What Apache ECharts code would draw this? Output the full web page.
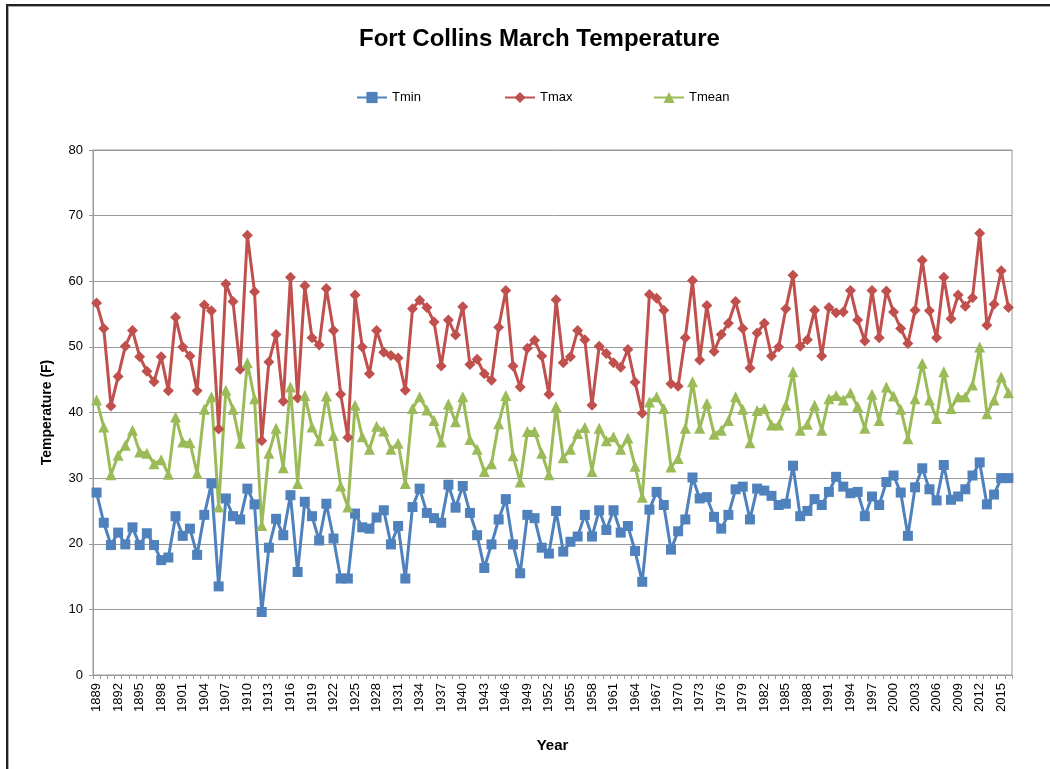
<!DOCTYPE html>
<html>
<head>
<meta charset="utf-8">
<title>Fort Collins March Temperature</title>
<script src="https://cdn.jsdelivr.net/npm/echarts@6/dist/echarts.min.js"></script>
<style>
    html, body { margin: 0; padding: 0; background: #fff; overflow: hidden; }
    #frame { position: absolute; left: 6px; top: 4px; width: 1100px; height: 800px; border: 2px solid #222; box-sizing: border-box; box-shadow: inset 1px 1px 0 #aaa; }
    #chart { position: absolute; left: 0; top: 0; width: 1050px; height: 769px; }
</style>
</head>
<body>
<div id="frame"></div>
<div id="chart"></div>
<script>
// years 1889 - 2016
var years = [];
for (var y = 1889; y <= 2016; y++) { years.push(String(y)); }

var tmin = [27.8, 23.2, 19.8, 21.7, 19.9, 22.5, 19.8, 21.6, 19.8, 17.5, 17.9, 24.2, 21.2, 22.3, 18.3, 24.4, 29.2, 13.5, 26.9, 24.2, 23.7, 28.4,
    26.0, 9.6, 19.4, 23.8, 21.3, 27.4, 15.7, 26.4, 24.2, 20.5, 26.1, 20.8, 14.7, 14.7, 24.6, 22.5, 22.3, 24.0, 25.1, 19.9, 22.7,
    14.7, 25.6, 28.4, 24.7, 23.9, 23.2, 29.0, 25.5, 28.8, 24.7, 21.3, 16.3, 19.9, 23.7, 26.8, 19.9, 15.5, 24.4, 23.9, 19.4, 18.5,
    25.0, 18.8, 20.3, 21.1, 24.4, 21.1, 25.1, 22.1, 25.1, 21.7, 22.7, 18.9, 14.2, 25.2, 27.9, 25.9, 19.1, 21.9, 23.7, 30.1, 26.9,
    27.1, 24.1, 22.3, 24.4, 28.3, 28.7, 23.7, 28.4, 28.1, 27.3, 25.9, 26.1, 31.9, 24.2, 25.0, 26.8, 25.9, 27.9, 30.2, 28.7, 27.7,
    27.9, 24.2, 27.2, 25.9, 29.4, 30.4, 27.8, 21.2, 28.6, 31.5, 28.3, 26.6, 32.0, 26.7, 27.2, 28.3, 30.4, 32.4, 26.0, 27.5, 30.0, 30.0];

var tmax = [56.7, 52.8, 41.0, 45.5, 50.1, 52.5, 48.5, 46.3, 44.7, 48.5, 43.3, 54.5, 50.0, 48.6, 43.3, 56.4, 55.5, 37.5, 59.6, 56.9, 46.6, 67.0,
    58.4, 35.7, 47.7, 51.9, 41.7, 60.6, 42.2, 59.3, 51.4, 50.3, 58.9, 52.5, 42.8, 36.2, 57.9, 50.0, 45.9, 52.5, 49.2, 48.7, 48.3,
    43.4, 55.8, 57.1, 56.0, 53.8, 47.1, 54.1, 51.8, 56.1, 47.3, 48.1, 45.9, 44.9, 53.0, 58.6, 47.1, 43.9, 49.8, 51.0, 48.6, 42.8,
    57.2, 47.6, 48.5, 52.5, 51.1, 41.1, 50.1, 49.0, 47.6, 46.9, 49.6, 44.6, 39.9, 58.0, 57.4, 55.6, 44.4, 44.0, 51.4, 60.1, 48.0,
    56.3, 49.3, 51.9, 53.6, 56.9, 52.8, 46.8, 52.1, 53.6, 48.6, 50.0, 55.8, 60.9, 50.1, 51.1, 55.6, 48.6, 56.0, 55.2, 55.3, 58.6,
    54.1, 50.9, 58.6, 51.4, 58.5, 55.3, 52.8, 50.5, 55.6, 63.2, 55.5, 51.4, 60.6, 54.3, 57.9, 56.2, 57.5, 67.3, 53.3, 56.5, 61.6, 56.0];

var tmean = [41.9, 37.8, 30.5, 33.5, 35.0, 37.3, 34.0, 33.8, 32.2, 32.8, 30.6, 39.3, 35.5, 35.4, 30.7, 40.5, 42.4, 25.6, 43.4, 40.5, 35.3, 47.6,
    42.1, 22.8, 33.8, 37.6, 31.6, 43.9, 29.2, 42.6, 37.8, 35.7, 42.5, 36.5, 28.8, 25.6, 41.1, 36.3, 34.4, 37.9, 37.2, 34.4, 35.3,
    29.2, 40.6, 42.4, 40.4, 38.8, 35.5, 41.3, 38.6, 42.4, 35.9, 34.4, 31.0, 32.2, 38.3, 42.6, 33.4, 29.4, 37.1, 37.1, 33.8, 30.5,
    40.9, 33.1, 34.4, 36.8, 37.7, 31.0, 37.6, 35.7, 36.3, 34.4, 36.1, 31.8, 27.1, 41.6, 42.4, 40.6, 31.7, 33.0, 37.6, 44.7, 37.6,
    41.4, 36.7, 37.3, 38.8, 42.4, 40.5, 35.4, 40.3, 40.6, 38.1, 38.1, 41.1, 46.2, 37.3, 38.2, 41.1, 37.3, 42.1, 42.6, 41.9, 43.0,
    40.9, 37.6, 42.8, 38.8, 43.9, 42.5, 40.5, 36.0, 42.1, 47.5, 41.9, 39.1, 46.2, 40.6, 42.4, 42.4, 44.2, 50.0, 39.8, 41.9, 45.4, 43.0];

var seriesNames = ['Tmin', 'Tmax', 'Tmean'];

var myChart = echarts.init(document.getElementById('chart'));

var makeSeries = function(name, data, color, symbol, size){
    return {
        name: name,
        type: 'line',
        data: data,
        symbol: symbol,
        symbolSize: size,
        showAllSymbol: true,
        lineStyle: { color: color, width: 3 },
        itemStyle: { color: color },
        emphasis: { disabled: true },
        animation: false
    };
};

// one legend per item so they sit on the same spacing as the original
var makeLegend = function(name, left){
    return {
        left: left,
        top: 86,
        itemWidth: 30,
        itemHeight: 14,
        textStyle: { fontSize: 13, color: '#000' },
        data: [name]
    };
};

var option = {
    animation: false,
    textStyle: { fontFamily: 'Liberation Sans' },
    title: {
        text: 'Fort Collins March Temperature',
        left: 354,
        top: 22,
        textStyle: { fontSize: 24, fontWeight: 'bold', color: '#000', fontFamily: 'Liberation Sans' }
    },
    legend: [
        makeLegend(seriesNames[0], 351),
        makeLegend(seriesNames[1], 499),
        makeLegend(seriesNames[2], 648)
    ],
    grid: {
        left: 93,
        right: 38,
        top: 150,
        bottom: 94,
        show: true,
        borderColor: '#999',
        borderWidth: 1
    },
    xAxis: {
        type: 'category',
        data: years,
        boundaryGap: true,
        name: 'Year',
        nameLocation: 'middle',
        nameGap: 63,
        nameTextStyle: { fontSize: 15, fontWeight: 'bold', color: '#000' },
        axisLine: { lineStyle: { color: '#999' } },
        axisTick: { show: true, interval: 0, length: 4, lineStyle: { color: '#999' } },
        axisLabel: { interval: 2, rotate: 90, fontSize: 13, color: '#000', margin: 8 }
    },
    yAxis: {
        type: 'value',
        min: 0,
        max: 80,
        interval: 10,
        name: 'Temperature (F)',
        nameLocation: 'middle',
        nameGap: 39,
        nameTextStyle: { fontSize: 14, fontWeight: 'bold', color: '#000' },
        axisLine: { show: true, lineStyle: { color: '#999' } },
        axisTick: { show: true, length: 4, lineStyle: { color: '#999' } },
        axisLabel: { fontSize: 13, color: '#000', margin: 10 },
        splitLine: { lineStyle: { color: '#999', width: 1 } }
    },
    series: [
        makeSeries(seriesNames[0], tmin, '#4F81BD', 'rect', 10),
        makeSeries(seriesNames[1], tmax, '#C0504D', 'diamond', 11),
        makeSeries(seriesNames[2], tmean, '#9BBB59', 'triangle', 11)
    ]
};
myChart.setOption(option);
</script>
</body>
</html>
